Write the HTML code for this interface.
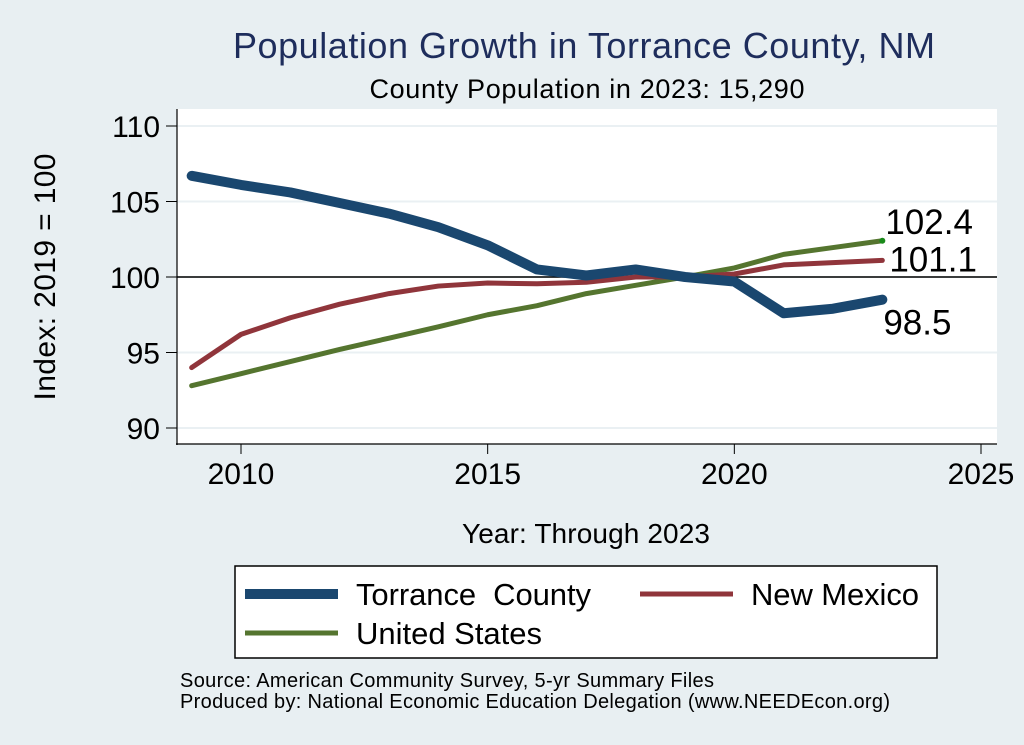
<!DOCTYPE html>
<html><head><meta charset="utf-8"><style>
body{margin:0;background:#e8eff2;font-family:"Liberation Sans",Arial,sans-serif;}
svg{display:block}
</style></head><body>
<svg id="chart" width="1024" height="745" viewBox="0 0 1024 745">
<rect x="0" y="0" width="1024" height="745" fill="#e8eff2"/>
<text x="584" y="58" font-size="36" fill="#1e2d5c" text-anchor="middle" textLength="702">Population Growth in Torrance County, NM</text>
<text x="587" y="98" font-size="27" fill="#000" text-anchor="middle" textLength="435">County Population in 2023: 15,290</text>
<rect x="177" y="109" width="820" height="335" fill="#fff"/>
<g id="grid"></g>
<g id="series"></g>
<g id="axes"></g>
<text x="55" y="277" font-size="30" text-anchor="middle" transform="rotate(-90 55 277)" textLength="247">Index: 2019 = 100</text>
<text x="586" y="543" font-size="28" text-anchor="middle" textLength="248">Year: Through 2023</text>
<g>
<rect x="235" y="566" width="702" height="92" fill="#fff" stroke="#000" stroke-width="1.5"/>
<g><line x1="245" y1="594" x2="338" y2="594" stroke="#1a476f" stroke-width="10"/><text x="356" y="605" font-size="31" textLength="235" xml:space="preserve">Torrance  County</text></g>
<g><line x1="640" y1="594" x2="733" y2="594" stroke="#90353b" stroke-width="5"/><text x="751" y="605" font-size="31" textLength="168">New Mexico</text></g>
<g><line x1="245" y1="633" x2="338" y2="633" stroke="#55752f" stroke-width="5"/><text x="356" y="644" font-size="31" textLength="186">United States</text></g>
</g>
<text x="180" y="687" font-size="20" textLength="534">Source: American Community Survey, 5-yr Summary Files</text>
<text x="180" y="708" font-size="20" textLength="710">Produced by: National Economic Education Delegation (www.NEEDEcon.org)</text>
</svg>
<script>
const years=[2009,2010,2011,2012,2013,2014,2015,2016,2017,2018,2019,2020,2021,2022,2023];
const torrance=[106.7,106.1,105.6,104.9,104.2,103.3,102.1,100.5,100.1,100.5,100.0,99.7,97.6,97.9,98.5];
const newMexico=[94.0,96.2,97.3,98.2,98.9,99.4,99.6,99.55,99.65,100.0,100.0,100.2,100.8,100.95,101.1];
const unitedStates=[92.8,93.6,94.4,95.2,95.95,96.7,97.5,98.1,98.9,99.45,100.0,100.6,101.5,101.95,102.4];
const xTicks=[2010,2015,2020,2025];
const yTicks=[90,95,100,105,110];
const endLabels=["98.5","101.1","102.4"];
const NS="http://www.w3.org/2000/svg";
function xs(v){return 241+(v-2010)*(981-241)/15;}
function ys(v){return 428-(v-90)*(428-126)/20;}
function mk(tag,attrs,parent){const e=document.createElementNS(NS,tag);for(const k in attrs)e.setAttribute(k,attrs[k]);parent.appendChild(e);return e;}
const grid=document.getElementById('grid'),axes=document.getElementById('axes'),ser=document.getElementById('series');
yTicks.forEach(t=>{
 const g=mk('line',{x1:177,x2:997,y1:ys(t),y2:ys(t),stroke:'#eaf0f3','stroke-width':2},grid);
 
 
 const tk=mk('line',{x1:166,x2:177,y1:ys(t),y2:ys(t),stroke:'#000','stroke-width':1},axes);
 
 
 const tx=mk('text',{x:160,y:ys(t)+11,'font-size':30,'text-anchor':'end'},axes);
 tx.textContent=t;
 
 
});
xTicks.forEach(t=>{
 const tk=mk('line',{x1:xs(t),x2:xs(t),y1:444,y2:454,stroke:'#000','stroke-width':1},axes);
 
 
 const tx=mk('text',{x:xs(t),y:484,'font-size':30,'text-anchor':'middle'},axes);
 tx.textContent=t;
 
 
});
const ya=mk('line',{x1:177,x2:177,y1:109,y2:445,stroke:'#000','stroke-width':1.2},axes);


const xa=mk('line',{x1:176,x2:997,y1:444,y2:444,stroke:'#000','stroke-width':1.2},axes);


const ref=mk('line',{x1:177,x2:997,y1:ys(100),y2:ys(100),stroke:'#000','stroke-width':1.5},ser);


function line(vals,color,w,name){
 const p=mk('polyline',{points:vals.map((v,i)=>xs(years[i])+','+ys(v)).join(' '),fill:'none',stroke:color,'stroke-width':w,'stroke-linejoin':'round','stroke-linecap':'round'},ser);
 
 
}
line(unitedStates,'#55752f',5,'line-united-states');
line(newMexico,'#90353b',5,'line-new-mexico');
line(torrance,'#1a476f',10,'line-torrance-county');
const gd=mk('circle',{cx:xs(2023),cy:ys(unitedStates[14]),r:3,fill:'#1a8a1a'},ser);


const last=years.length-1;
const lab=[[torrance[last],endLabels[0],35,1,'label-torrance-end'],[newMexico[last],endLabels[1],11,7,'label-new-mexico-end'],[unitedStates[last],endLabels[2],-7,3,'label-united-states-end']];
lab.forEach(([v,s,dy,dx,n])=>{
 const t=mk('text',{x:xs(2023)+dx,y:ys(v)+dy,'font-size':35},ser);
 t.textContent=s;
 
 
});
</script>
</body></html>
